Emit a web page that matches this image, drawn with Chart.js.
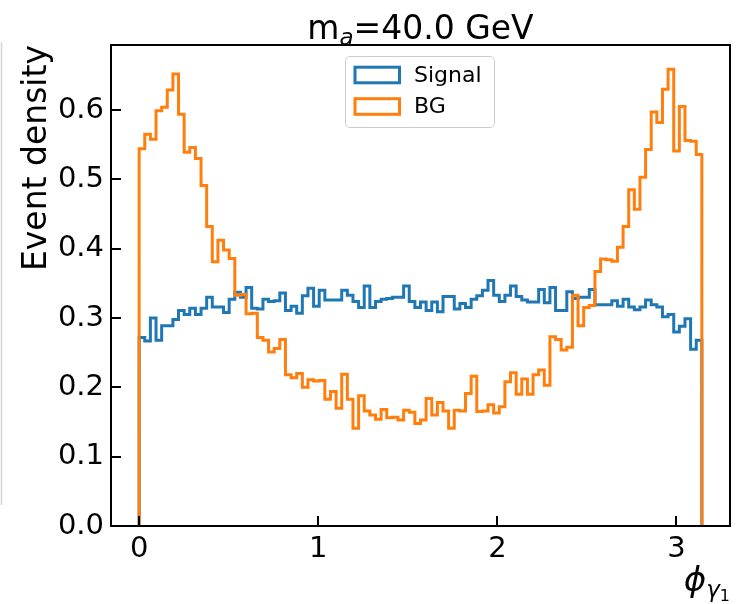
<!DOCTYPE html>
<html><head><meta charset="utf-8">
<script src="https://cdn.jsdelivr.net/npm/chart.js@4"></script>
<style>html,body{margin:0;padding:0;background:#fff;} canvas{display:block;}</style>
</head><body>
<canvas id="c" width="743" height="604"></canvas>
<script>
// ---- data ----
const binCount = 100;
const binLow = 0;
const binHigh = Math.PI;
const seriesLabels = ['Signal', 'BG'];
const signalValues = [
  0.272,0.267,0.300,0.268,0.289,0.289,0.298,0.311,0.305,0.314,
  0.305,0.314,0.330,0.316,0.316,0.308,0.327,0.337,0.330,0.344,
  0.314,0.313,0.327,0.324,0.325,0.336,0.311,0.317,0.307,0.332,
  0.343,0.317,0.340,0.326,0.326,0.326,0.340,0.333,0.324,0.315,
  0.346,0.315,0.324,0.327,0.328,0.330,0.330,0.346,0.324,0.315,
  0.323,0.311,0.323,0.309,0.331,0.331,0.313,0.321,0.315,0.327,
  0.332,0.340,0.354,0.333,0.324,0.333,0.346,0.331,0.326,0.323,
  0.323,0.341,0.322,0.344,0.311,0.311,0.338,0.328,0.330,0.330,
  0.341,0.319,0.319,0.319,0.325,0.317,0.327,0.316,0.312,0.316,
  0.326,0.319,0.316,0.302,0.305,0.280,0.288,0.299,0.255,0.268
];
const bgValues = [
  0.544,0.565,0.558,0.599,0.604,0.629,0.652,0.594,0.539,0.546,
  0.530,0.491,0.432,0.381,0.412,0.398,0.386,0.333,0.334,0.306,
  0.307,0.272,0.268,0.251,0.256,0.269,0.218,0.214,0.220,0.200,
  0.211,0.209,0.210,0.183,0.194,0.170,0.219,0.183,0.141,0.188,
  0.166,0.160,0.154,0.168,0.156,0.157,0.153,0.167,0.164,0.148,
  0.153,0.184,0.160,0.178,0.166,0.141,0.167,0.166,0.191,0.216,
  0.165,0.166,0.175,0.163,0.172,0.208,0.221,0.190,0.212,0.190,
  0.218,0.225,0.203,0.273,0.269,0.254,0.258,0.333,0.289,0.315,
  0.318,0.367,0.385,0.384,0.382,0.402,0.432,0.485,0.457,0.503,
  0.543,0.597,0.582,0.630,0.659,0.541,0.605,0.556,0.555,0.536
];
const xTickValues = [0, 1, 2, 3];
const xTickLabels = ['0', '1', '2', '3'];
const yTickValues = [0, 0.1, 0.2, 0.3, 0.4, 0.5, 0.6];
const yTickLabels = ['0.0', '0.1', '0.2', '0.3', '0.4', '0.5', '0.6'];
const titleMain = 'm', titleSub = 'a', titleRest = '=40.0 GeV';
const yAxisTitle = 'Event density';
const xAxisSymbol = '\u03D5', xAxisSub = '\u03B3', xAxisSubSub = '1';

// ---- styling ----
const FONT = '"DejaVu Sans"';
const colors = ['#1f77b4', '#ff7f0e'];
const LW = 3;

function stepPoints(values) {
  const w = (binHigh - binLow) / binCount;
  const pts = [{x: binLow, y: 0}];
  values.forEach((v, i) => pts.push({x: binLow + i * w, y: v}));
  pts.push({x: binHigh, y: values[values.length - 1]});
  pts.push({x: binHigh, y: 0});
  return pts;
}

const decor = {
  id: 'decor',
  afterDraw(chart) {
    const {ctx, chartArea: a, scales: {x, y}} = chart;
    ctx.save();
    // faint edge line at the far left (cropped neighbour frame)
    ctx.strokeStyle = '#d6d6d6';
    ctx.lineWidth = 1.5;
    ctx.beginPath(); ctx.moveTo(1.5, 42); ctx.lineTo(1.5, 505); ctx.stroke();

    // frame
    ctx.strokeStyle = '#000';
    ctx.lineWidth = 2;
    ctx.strokeRect(a.left, a.top, a.right - a.left, a.bottom - a.top);
    // inward ticks
    ctx.beginPath();
    x.ticks.forEach(t => { const p = Math.round(x.getPixelForValue(t.value)); ctx.moveTo(p, a.bottom); ctx.lineTo(p, a.bottom - 10); });
    y.ticks.forEach(t => { const p = Math.round(y.getPixelForValue(t.value)); ctx.moveTo(a.left, p); ctx.lineTo(a.left + 10, p); });
    ctx.stroke();

    // title
    ctx.fillStyle = '#000';
    ctx.textBaseline = 'alphabetic';
    ctx.textAlign = 'left';
    const fMain = '33px ' + FONT, fSub = 'italic 23px ' + FONT;
    ctx.font = fMain; const w1 = ctx.measureText(titleMain).width, w3 = ctx.measureText(titleRest).width;
    ctx.font = fSub; const w2 = ctx.measureText(titleSub).width;
    let tx = (a.left + a.right) / 2 - (w1 + w2 + w3) / 2;
    const tb = 39;
    ctx.font = fMain; ctx.fillText(titleMain, tx, tb); tx += w1;
    ctx.font = fSub; ctx.fillText(titleSub, tx, tb + 6); tx += w2;
    ctx.font = fMain; ctx.fillText(titleRest, tx, tb);

    // y axis title (top aligned)
    ctx.save();
    ctx.translate(46, a.top);
    ctx.rotate(-Math.PI / 2);
    ctx.textAlign = 'right';
    ctx.font = '33px ' + FONT;
    ctx.fillText(yAxisTitle, 0, 0);
    ctx.restore();

    // x axis title (right aligned)
    const fx1 = 'italic 34px ' + FONT, fx2 = 'italic 23px ' + FONT, fx3 = '16px ' + FONT;
    ctx.font = fx1; const s1 = ctx.measureText(xAxisSymbol).width;
    ctx.font = fx2; const s2 = ctx.measureText(xAxisSub).width;
    ctx.font = fx3; const s3 = ctx.measureText(xAxisSubSub).width;
    let lx = a.right - (s1 + s2 + s3);
    const lb = 591;
    ctx.font = fx1; ctx.fillText(xAxisSymbol, lx, lb); lx += s1;
    ctx.font = fx2; ctx.fillText(xAxisSub, lx, lb + 6); lx += s2;
    ctx.font = fx3; ctx.fillText(xAxisSubSub, lx, lb + 10);

    // legend
    const ds = chart.data.datasets;
    const bx = 345.5, by = 56.5, bw = 149, bh = 71, r = 4.4;
    ctx.beginPath();
    ctx.moveTo(bx + r, by);
    ctx.arcTo(bx + bw, by, bx + bw, by + bh, r);
    ctx.arcTo(bx + bw, by + bh, bx, by + bh, r);
    ctx.arcTo(bx, by + bh, bx, by, r);
    ctx.arcTo(bx, by, bx + bw, by, r);
    ctx.closePath();
    ctx.fillStyle = 'rgba(255,255,255,0.8)';
    ctx.fill();
    ctx.strokeStyle = '#cccccc';
    ctx.lineWidth = 1;
    ctx.stroke();
    ctx.font = '22px ' + FONT;
    ctx.textBaseline = 'middle';
    ds.forEach((d, i) => {
      const cy = 75 + i * 31.5;
      ctx.strokeStyle = d.borderColor;
      ctx.lineWidth = LW;
      ctx.lineJoin = 'miter';
      ctx.strokeRect(355, cy - 7.8, 44.5, 15.6);
      ctx.fillStyle = '#000';
      ctx.fillText(d.label, 414, cy + 1);
    });
    ctx.restore();
  }
};

const tickFont = {family: 'DejaVu Sans', size: 29};
new Chart(document.getElementById('c').getContext('2d'), {
  type: 'line',
  data: {
    datasets: [
      {label: seriesLabels[0], data: stepPoints(signalValues), borderColor: colors[0], borderWidth: LW,
       stepped: 'before', pointRadius: 0, fill: false, order: 2, borderJoinStyle: 'miter', borderCapStyle: 'butt'},
      {label: seriesLabels[1], data: stepPoints(bgValues), borderColor: colors[1], borderWidth: LW,
       stepped: 'before', pointRadius: 0, fill: false, order: 1, borderJoinStyle: 'miter', borderCapStyle: 'butt'}
    ]
  },
  options: {
    responsive: false,
    animation: false,
    devicePixelRatio: 1,
    layout: {padding: {left: 0, right: 13, top: 45, bottom: 0}},
    plugins: {legend: {display: false}, title: {display: false}, tooltip: {enabled: false}},
    scales: {
      x: {
        type: 'linear', min: -0.1571, max: 3.2987,
        grid: {display: false}, border: {display: false},
        afterBuildTicks: s => { s.ticks = xTickValues.map(v => ({value: v})); },
        afterFit: s => { s.height = 78; },
        ticks: {font: tickFont, color: '#000', padding: -2, maxRotation: 0, autoSkip: false,
                callback: v => xTickLabels[xTickValues.indexOf(v)]}
      },
      y: {
        type: 'linear', min: 0, max: 0.6938,
        grid: {display: false}, border: {display: false},
        afterBuildTicks: s => { s.ticks = yTickValues.map(v => ({value: v})); },
        afterFit: s => { s.width = 111; },
        ticks: {font: tickFont, color: '#000', padding: -1, autoSkip: false,
                callback: v => yTickLabels[yTickValues.findIndex(t => Math.abs(t - v) < 1e-9)]}
      }
    }
  },
  plugins: [decor]
});
</script>
</body></html>
